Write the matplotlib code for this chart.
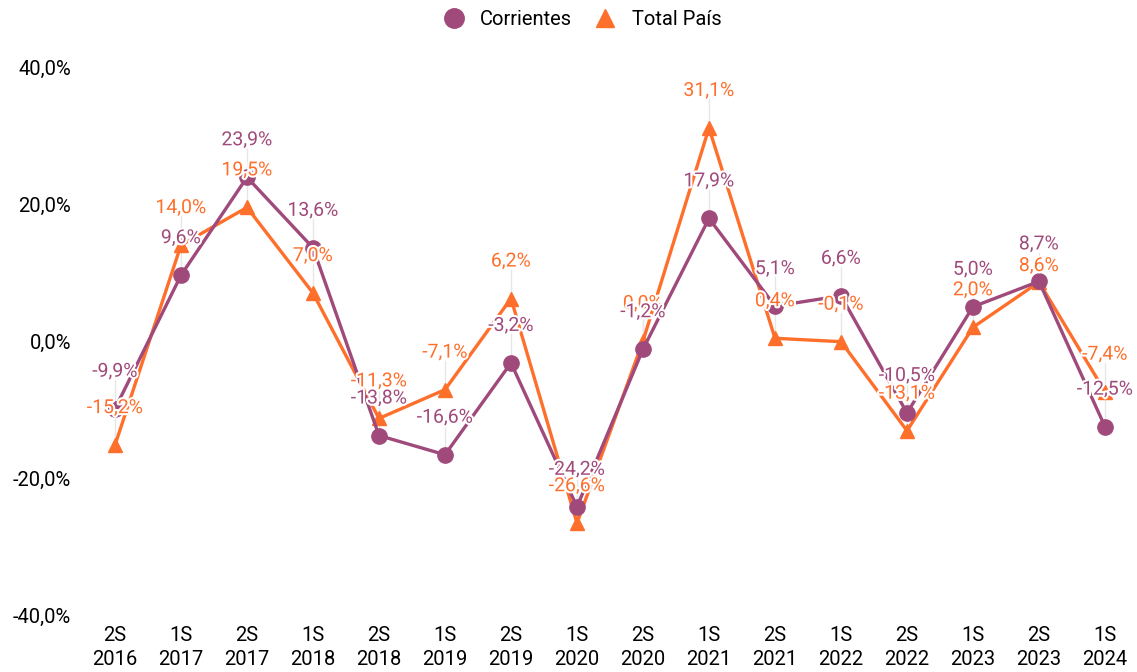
import matplotlib.pyplot as plt
import matplotlib.patheffects as pe
from matplotlib.lines import Line2D

plt.rcParams['font.family'] = ['Roboto', 'DejaVu Sans']

periodos = ["2S\n2016", "1S\n2017", "2S\n2017", "1S\n2018", "2S\n2018", "1S\n2019",
            "2S\n2019", "1S\n2020", "2S\n2020", "1S\n2021", "2S\n2021", "1S\n2022",
            "2S\n2022", "1S\n2023", "2S\n2023", "1S\n2024"]
corrientes = [-9.9, 9.6, 23.9, 13.6, -13.8, -16.6, -3.2, -24.2, -1.2, 17.9, 5.1, 6.6,
              -10.5, 5.0, 8.7, -12.5]
total_pais = [-15.2, 14.0, 19.5, 7.0, -11.3, -7.1, 6.2, -26.6, 0.0, 31.1, 0.4, -0.1,
              -13.1, 2.0, 8.6, -7.4]
yticks = [-40, -20, 0, 20, 40]

purple = "#a04a7b"
orange = "#ff6f2c"

fig = plt.figure(figsize=(11.37, 6.72), dpi=100)
ax = fig.add_axes([82 / 1137, 0.0848, 1 - 82 / 1137, 0.8155])
x = list(range(len(periodos)))

ax.plot(x, total_pais, color=orange, lw=2.4, marker="^", ms=10, zorder=3)
ax.plot(x, corrientes, color=purple, lw=2.4, marker="o", ms=11, zorder=4)

# etiquetas de datos con linea guia
px = 1 / 6.85  # unidades de y por pixel
for serie, col, name in [(total_pais, orange, "tp"), (corrientes, purple, "co")]:
    for i, v in enumerate(serie):
        off = 37 * px
        if name == "tp" and i == 14:
            off = 16 * px  # se corre para no pisar la de Corrientes
        ax.plot([i, i], [v, v + off - 1.2], color="#e6e6e6", lw=1, zorder=1)
        ax.text(i, v + off, f"{v:.1f}%".replace(".", ","), color=col, fontsize=14,
                ha="center", va="center", zorder=6,
                path_effects=[pe.withStroke(linewidth=3, foreground="white")])

ax.set_xlim(-0.5, 15.485)
ax.set_ylim(-40, 40)
ax.set_xticks(x)
ax.set_xticklabels(periodos, fontsize=14.5, linespacing=1.35)
ax.set_yticks(yticks)
ax.set_yticklabels([f"{t:.1f}%".replace(".", ",") for t in yticks], fontsize=14.5)
ax.tick_params(length=0)
ax.tick_params(axis="x", pad=8)
ax.tick_params(axis="y", pad=8)
for s in ax.spines.values():
    s.set_visible(False)

handles = [Line2D([], [], color=purple, marker="o", ls="", ms=14),
           Line2D([], [], color=orange, marker="^", ls="", ms=13)]
fig.legend(handles, ["Corrientes", "Total País"], loc="upper center",
           bbox_to_anchor=(0.508, 1.012), ncol=2, frameon=False, fontsize=14.5,
           handletextpad=0.3, columnspacing=0.65)

fig.savefig("out.png", dpi=100)
